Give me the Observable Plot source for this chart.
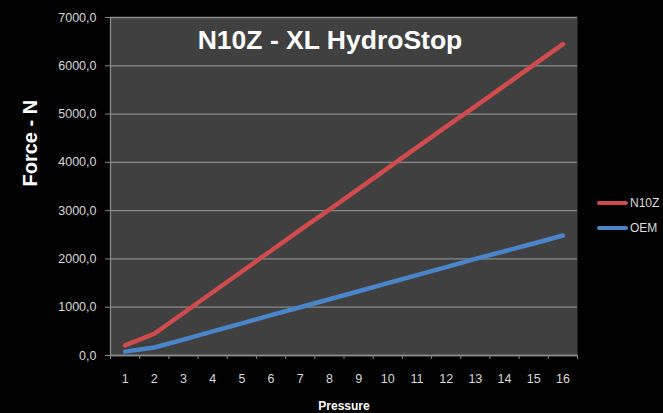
<!DOCTYPE html>
<html>
<head>
<meta charset="utf-8">
<script src="https://cdn.jsdelivr.net/npm/d3@7"></script>
<script src="https://cdn.jsdelivr.net/npm/@observablehq/plot@0.6"></script>
<style>
  html, body { margin: 0; padding: 0; background: #000; }
  #wrap { position: relative; width: 663px; height: 413px; background: #000; }
  #legend { position: absolute; left: 597px; top: 190px; font: 12px "Liberation Sans", Arial, sans-serif; color: #dcdcdc; }
  .item { display: flex; align-items: center; height: 25px; }
  .sw { width: 31px; height: 4px; border-radius: 2px; margin-right: 2px; }
</style>
</head>
<body>
<div id="wrap"></div>
<script>
const title = "N10Z - XL HydroStop";
const yLabel = "Force - N";
const xLabel = "Pressure";
const pressure = [1, 2, 3, 4, 5, 6, 7, 8, 9, 10, 11, 12, 13, 14, 15, 16];
const seriesNames = ["N10Z", "OEM"];
const n10z = [210, 450, 880, 1310, 1740, 2170, 2600, 3020, 3450, 3880, 4310, 4740, 5160, 5590, 6020, 6450];
const oem = [80, 165, 330, 500, 665, 835, 1000, 1165, 1330, 1500, 1665, 1830, 2000, 2160, 2320, 2485];
const yTicks = [0, 1000, 2000, 3000, 4000, 5000, 6000, 7000];
const colors = ["#cf4b4c", "#4a85ca"];

const data = [];
pressure.forEach((p, i) => {
  data.push({p, v: n10z[i], s: seriesNames[0]});
  data.push({p, v: oem[i], s: seriesNames[1]});
});
const bounds = [pressure[0] - 0.5, ...pressure.map(p => p + 0.5)];

const fmt = d => d.toFixed(1).replace(".", ",");
const font = '"Liberation Sans", Arial, sans-serif';

const chart = Plot.plot({
  width: 663,
  height: 413,
  marginLeft: 110,
  marginRight: 86,
  marginTop: 17,
  marginBottom: 58,
  style: {background: "#000", color: "#d9d9d9", fontFamily: font, fontSize: "12px"},
  x: {type: "linear", domain: [pressure[0] - 0.5, pressure[pressure.length - 1] + 0.5]},
  y: {domain: [0, 7000]},
  color: {domain: seriesNames, range: colors},
  marks: [
    Plot.frame({fill: "#404040", stroke: null}),
    Plot.gridY(yTicks, {stroke: "#8a8a8a", strokeOpacity: 1, strokeWidth: 1.3}),
    Plot.ruleX([bounds[0]], {stroke: "#8a8a8a", strokeWidth: 1.3}),
    Plot.ruleY([0], {stroke: "#8a8a8a", strokeWidth: 1.3}),
    Plot.axisY(yTicks, {tickFormat: fmt, tickSize: 5, tickPadding: 9, stroke: "#8a8a8a", fill: "#d9d9d9", fontSize: 12.5, label: null}),
    Plot.axisX(bounds, {tickFormat: () => "", tickSize: 4, stroke: "#8a8a8a", label: null}),
    Plot.axisX(pressure, {tickFormat: d => String(d), tickSize: 0, tickPadding: 19, fill: "#d9d9d9", fontSize: 12.5, label: null}),
    Plot.line(data, {x: "p", y: "v", z: "s", stroke: "s", strokeWidth: 4.5, strokeLinecap: "round", strokeLinejoin: "round"}),
    Plot.text([title], {frameAnchor: "top", dx: -14, dy: 13, lineAnchor: "top", fill: "#fff", fontSize: 26.5, fontWeight: "bold", text: d => d}),
    Plot.text([yLabel], {frameAnchor: "left", dx: -80, rotate: -90, fill: "#fff", fontSize: 20, fontWeight: "bold", text: d => d}),
    Plot.text([xLabel], {frameAnchor: "bottom", dy: 54, lineAnchor: "bottom", fill: "#fff", fontSize: 12, fontWeight: "bold", text: d => d})
  ]
});
document.getElementById("wrap").appendChild(chart);

const legend = document.createElement("div");
legend.id = "legend";
seriesNames.forEach((name, i) => {
  const item = document.createElement("div");
  item.className = "item";
  const sw = document.createElement("div");
  sw.className = "sw";
  sw.style.background = colors[i];
  const lab = document.createElement("span");
  lab.textContent = name;
  item.appendChild(sw);
  item.appendChild(lab);
  legend.appendChild(item);
});
document.getElementById("wrap").appendChild(legend);
</script>
</body>
</html>
